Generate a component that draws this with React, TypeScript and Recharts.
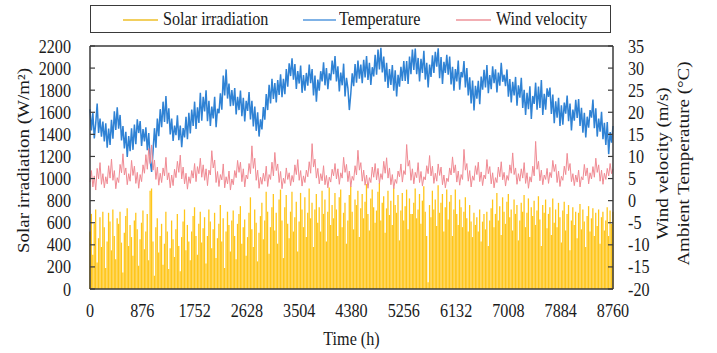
import React from 'react';
import {
  ComposedChart,
  Bar,
  Line,
  XAxis,
  YAxis,
  ReferenceLine,
} from 'recharts';

// one reading per day (daily peak for irradiation)
const STEP_H = 24;

const solarPeak = [
  520, 680, 310, 590, 720, 240, 460, 650, 380, 700,
  560, 190, 430, 690, 610, 350, 720, 480, 270, 640,
  590, 700, 420, 150, 510, 660, 730, 390, 580, 470,
  300, 620, 690, 540, 210, 450, 600, 710, 360, 520,
  680, 260, 890, 910, 430, 120, 560, 640, 330, 480,
  590, 220, 410, 700, 520, 180, 370, 620, 450, 290,
  540, 680, 390, 160, 470, 610, 720, 350, 580, 430,
  260, 520, 660, 740, 480, 310, 590, 700, 420, 550,
  650, 230, 480, 720, 610, 370, 540, 690, 280, 460,
  590, 760, 430, 640, 190, 520, 700, 580, 340, 620,
  710, 480, 270, 590, 680, 750, 410, 560, 630, 300,
  470, 690, 830, 540, 380, 720, 600, 250, 510, 660,
  780, 450, 620, 880, 700, 320, 560, 740, 860, 530,
  690, 410, 810, 900, 620, 280, 740, 850, 590, 460,
  700, 880, 520, 650, 790, 340, 610, 870, 720, 560,
  830, 470, 690, 910, 640, 780, 380, 720, 860, 600,
  740, 520, 890, 680, 810, 430, 700, 920, 580, 760,
  640, 870, 720, 480, 830, 900, 560, 690, 780, 410,
  620, 850, 930, 700, 540, 810, 760, 890, 470, 730,
  860, 640, 790, 950, 680, 530, 820, 900, 740, 600,
  710, 880, 960, 620, 780, 840, 510, 730, 890, 670,
  800, 580, 920, 760, 690, 850, 440, 710, 870, 620,
  750, 900, 540, 820, 680, 680, 780, 910, 640, 720,
  860, 590, 800, 930, 700, 480, 60, 760, 650, 890,
  720, 810, 570, 940, 690, 780, 860, 520, 740, 900,
  630, 790, 850, 480, 720, 900, 680, 580, 810, 740,
  560, 700, 830, 640, 520, 760, 610, 470, 690, 580,
  650, 520, 720, 430, 610, 680, 540, 700, 390, 620,
  730, 810, 560, 680, 870, 620, 750, 490, 830, 700,
  590, 790, 860, 650, 720, 530, 810, 680, 760, 440,
  620, 780, 700, 850, 560, 690, 820, 470, 740, 660,
  800, 580, 710, 840, 630, 390, 760, 690, 810, 550,
  680, 740, 490, 820, 600, 720, 560, 780, 650, 420,
  710, 790, 530, 680, 760, 350, 620, 740, 580, 700,
  460, 690, 770, 540, 720, 610, 380, 660, 750, 520,
  640, 730, 480, 690, 570, 720, 410, 650, 700, 530,
  620, 740, 480, 710, 590, 700,
];

const temperature = [
  20.7, 15.9, 19.8, 14.1, 17.5, 22.0, 15.3, 18.6, 14.5, 17.9,
  13.4, 17.5, 12.0, 16.3, 12.6, 18.3, 14.0, 20.2, 16.0, 21.1,
  16.3, 19.4, 13.6, 16.9, 11.8, 15.6, 9.9, 14.6, 11.2, 16.4,
  11.5, 17.2, 12.8, 18.4, 15.3, 18.0, 12.4, 16.2, 13.4, 16.6,
  11.4, 15.3, 9.0, 6.5, 11.2, 16.4, 12.0, 18.6, 14.6, 20.7,
  16.6, 22.4, 17.8, 23.7, 17.4, 20.9, 15.0, 18.6, 13.5, 17.0,
  14.8, 19.3, 13.7, 17.0, 12.1, 16.4, 14.3, 19.0, 13.9, 19.9,
  15.2, 20.6, 16.9, 22.4, 16.2, 21.1, 17.6, 24.4, 18.1, 23.5,
  20.2, 25.0, 18.0, 22.6, 16.9, 21.3, 18.6, 23.5, 16.6, 20.8,
  19.8, 24.3, 20.6, 28.3, 23.8, 29.7, 23.1, 26.5, 21.4, 25.0,
  21.5, 25.5, 19.5, 23.5, 20.5, 24.9, 19.1, 23.3, 17.9, 22.6,
  20.3, 24.6, 18.4, 22.6, 16.8, 21.3, 15.8, 20.0, 14.5, 18.4,
  16.1, 21.2, 18.3, 24.1, 20.5, 26.2, 22.0, 27.6, 23.0, 26.6,
  22.2, 27.3, 23.9, 28.6, 23.4, 27.6, 24.1, 29.8, 25.8, 31.1,
  28.2, 32.2, 27.4, 30.9, 25.3, 29.3, 26.5, 30.6, 24.4, 28.4,
  24.9, 28.9, 26.0, 30.8, 26.6, 29.8, 23.8, 28.3, 22.4, 27.4,
  24.9, 29.3, 27.0, 31.3, 26.1, 30.0, 25.2, 28.8, 27.2, 31.7,
  28.6, 32.7, 27.0, 30.4, 24.7, 29.0, 26.1, 31.0, 23.6, 27.8,
  25.4, 20.5, 24.2, 28.8, 25.9, 30.9, 26.7, 31.7, 27.6, 30.8,
  26.6, 31.9, 27.9, 32.7, 27.3, 31.2, 26.2, 30.2, 28.1, 33.0,
  28.5, 34.2, 29.7, 34.6, 29.0, 32.6, 26.9, 31.2, 25.5, 29.8,
  26.2, 30.7, 24.9, 29.5, 23.6, 28.5, 25.8, 30.3, 27.1, 31.6,
  27.1, 31.6, 26.4, 32.6, 28.6, 34.2, 29.6, 34.4, 28.6, 32.3,
  27.0, 32.1, 28.9, 33.9, 27.4, 31.2, 25.6, 30.8, 28.0, 32.9,
  28.9, 33.7, 30.3, 34.5, 27.7, 32.5, 26.4, 31.4, 28.9, 33.0,
  28.5, 32.6, 26.3, 30.3, 24.9, 29.8, 27.0, 31.7, 25.1, 29.1,
  27.9, 31.6, 25.6, 30.0, 23.8, 27.9, 22.0, 27.2, 20.4, 26.0,
  23.1, 27.1, 21.8, 28.1, 25.1, 29.6, 25.6, 30.7, 24.3, 28.4,
  25.2, 30.4, 26.6, 29.7, 24.5, 29.0, 26.0, 31.2, 26.9, 28.5,
  25.9, 29.7, 23.5, 27.5, 22.2, 26.9, 23.8, 28.0, 21.5, 26.1,
  23.3, 27.8, 21.0, 25.1, 19.4, 24.4, 20.7, 25.9, 18.5, 23.7,
  21.9, 26.7, 20.6, 25.8, 21.0, 27.3, 19.4, 24.2, 20.6, 25.4,
  23.5, 25.6, 19.6, 24.0, 17.5, 22.5, 18.8, 23.3, 16.9, 21.6,
  17.2, 22.2, 19.7, 23.8, 18.0, 22.0, 15.9, 20.6, 18.1, 22.8,
  18.7, 23.0, 16.9, 21.0, 15.4, 19.9, 14.3, 19.0, 16.5, 20.5,
  18.8, 22.9, 16.4, 20.9, 14.5, 18.6, 15.6, 20.1, 13.9, 17.6,
  12.6, 17.8, 10.5, 15.5, 13.1, 16.9,
];

const windVelocity = [
  4.2, 6.8, 3.1, 5.6, 2.4, 7.3, 4.9, 8.6, 3.7, 6.1,
  2.9, 5.4, 3.8, 7.9, 5.1, 9.4, 4.6, 6.8, 2.7, 5.2,
  4.1, 8.2, 6.3, 10.6, 5.8, 7.4, 3.6, 6.1, 4.4, 9.1,
  5.7, 7.8, 3.9, 6.4, 2.8, 5.9, 4.3, 8.1, 6.2, 10.4,
  7.1, 11.8, 8.4, 12.6, 6.9, 9.2, 4.8, 7.6, 3.5, 6.2,
  4.1, 7.4, 5.6, 9.8, 4.7, 6.3, 2.9, 5.8, 3.4, 7.1,
  5.2, 8.9, 6.4, 10.3, 4.9, 7.6, 3.8, 6.2, 2.6, 5.4,
  3.9, 6.8, 5.1, 8.4, 4.3, 7.7, 6.1, 9.6, 5.3, 8.1,
  4.6, 7.2, 3.4, 6.9, 5.8, 11.3, 7.4, 9.2, 4.1, 6.6,
  3.2, 5.9, 4.7, 8.3, 2.9, 5.4, 3.8, 6.7, 2.4, 4.9,
  3.6, 6.8, 5.2, 9.1, 6.4, 8.7, 4.3, 7.2, 3.1, 5.8,
  4.9, 8.4, 6.1, 12.4, 7.3, 9.6, 4.6, 6.9, 2.8, 5.3,
  3.7, 6.2, 4.4, 7.8, 3.2, 5.9, 4.8, 8.7, 5.6, 10.9,
  6.8, 8.3, 4.1, 6.6, 2.7, 5.1, 3.9, 7.4, 4.8, 6.3,
  3.4, 5.7, 4.2, 8.1, 5.9, 9.3, 4.6, 6.8, 3.3, 5.6,
  4.1, 6.9, 5.4, 8.8, 6.2, 12.9, 7.6, 9.4, 5.1, 7.3,
  3.8, 6.1, 4.5, 7.9, 3.6, 5.7, 2.9, 5.3, 4.2, 7.1,
  5.6, 8.4, 4.9, 7.2, 3.7, 6.3, 5.1, 9.8, 6.4, 8.2,
  4.3, 6.7, 3.1, 5.5, 4.6, 7.9, 5.8, 11.4, 6.9, 8.6,
  4.4, 6.9, 3.5, 5.8, 2.8, 5.2, 4.1, 7.6, 5.3, 8.4,
  4.7, 7.3, 3.9, 6.1, 4.8, 8.9, 6.2, 9.7, 5.1, 7.4,
  3.6, 5.9, 2.7, 4.8, 3.9, 6.7, 5.4, 8.3, 4.2, 6.8,
  5.9, 12.7, 7.8, 9.1, 4.6, 7.2, 3.8, 6.4, 5.2, 8.6,
  4.1, 6.6, 3.3, 5.4, 4.7, 7.9, 6.1, 10.2, 5.6, 7.8,
  3.9, 6.2, 4.4, 8.3, 5.7, 7.6, 3.6, 5.8, 2.9, 5.1,
  4.3, 7.4, 5.8, 9.9, 6.3, 8.1, 4.2, 6.7, 3.5, 5.9,
  4.8, 11.6, 6.9, 8.4, 4.4, 6.8, 3.1, 5.6, 4.6, 7.9,
  5.9, 8.7, 4.3, 6.5, 3.4, 5.8, 4.9, 9.3, 6.1, 7.7,
  3.8, 6.3, 2.9, 5.2, 4.1, 7.6, 5.4, 8.8, 4.7, 6.4,
  3.3, 5.7, 4.6, 8.1, 6.2, 10.8, 5.9, 7.4, 3.7, 6.1,
  4.4, 7.2, 5.1, 8.6, 3.9, 6.3, 2.8, 5.4, 4.2, 7.8,
  5.6, 13.4, 7.1, 8.9, 4.5, 6.9, 3.6, 5.8, 4.8, 7.3,
  3.9, 6.4, 5.2, 9.1, 6.6, 8.2, 4.1, 6.7, 3.2, 5.5,
  4.6, 7.8, 5.9, 10.7, 6.8, 8.4, 4.3, 6.1, 3.4, 5.8,
  4.2, 6.9, 3.1, 5.4, 4.7, 8.2, 5.6, 7.4, 3.8, 6.3,
  4.9, 7.7, 5.3, 9.6, 6.4, 8.1, 4.4, 6.9, 3.7, 6.2,
  4.8, 7.3, 5.6, 8.4, 6.1, 7.2,
];

const timeTicks = [0, 876, 1752, 2628, 3504, 4380, 5256, 6132, 7008, 7884, 8760];
const irradiationTicks = [0, 200, 400, 600, 800, 1000, 1200, 1400, 1600, 1800, 2000, 2200];
const temperatureTicks = [-20, -15, -10, -5, 0, 5, 10, 15, 20, 25, 30, 35];

const series = [
  { key: 'solar', name: 'Solar irradiation', color: '#FFC61A', swatch: '#F2CF5E' },
  { key: 'temp', name: 'Temperature', color: '#2F82D4', swatch: '#7FB2E6' },
  { key: 'wind', name: 'Wind velocity', color: '#F08A93', swatch: '#F2AEB3' },
];

const data = solarPeak.map((s, i) => ({
  hour: i * STEP_H,
  solar: s,
  temp: temperature[i],
  wind: windVelocity[i],
}));

const FONT = '"Liberation Serif", "Times New Roman", serif';
const FS = 19;
const SQUEEZE = 0.85; // the source figure is squashed sideways
const FRAME = '#3a3a3a';
const INK = '#1a1a1a';

// horizontally squeezed text, optionally rotated
const Txt = ({ x, y, anchor = 'middle', rotate = 0, children }: any) => (
  <text
    transform={`translate(${x} ${y}) scale(${SQUEEZE} 1) rotate(${rotate})`}
    textAnchor={anchor}
    fill={INK}
    fontFamily={FONT}
    fontSize={FS}
  >
    {children}
  </text>
);

const LeftTick = ({ x, y, payload }: any) => (
  <g>
    <line x1={x} x2={x + 5} y1={y} y2={y} stroke={FRAME} strokeWidth={1.2} />
    <Txt x={x - 19} y={y + 6.5} anchor="end">{payload.value}</Txt>
  </g>
);

const RightTick = ({ x, y, payload }: any) => (
  <g>
    <line x1={x} x2={x - 5} y1={y} y2={y} stroke={FRAME} strokeWidth={1.2} />
    <Txt x={x + 15} y={y + 6.5} anchor="start">{payload.value}</Txt>
  </g>
);

const BottomTick = ({ x, y, payload }: any) => (
  <Txt x={x} y={y + 28}>{payload.value}</Txt>
);

const LeftTitle = ({ viewBox }: any) => (
  <Txt x={viewBox.x + 29} y={viewBox.y + viewBox.height / 2 - 7} rotate={-90}>
    Solar irradiation (W/m²)
  </Txt>
);

const RightTitle = ({ viewBox }: any) => {
  const cy = viewBox.y + viewBox.height / 2 - 4;
  return (
    <g>
      <Txt x={viewBox.x + 55} y={cy} rotate={-90}>Wind velocity (m/s)</Txt>
      <Txt x={viewBox.x + 76} y={cy} rotate={-90}>Ambient Temperature (°C)</Txt>
    </g>
  );
};

const BottomTitle = ({ viewBox }: any) => (
  <Txt x={viewBox.x + viewBox.width / 2} y={viewBox.y + 56}>Time (h)</Txt>
);

// legend item offsets inside the box
const legendSlots = [
  { swatch: 32, swatchW: 35, text: 72 },
  { swatch: 212, swatchW: 33, text: 248 },
  { swatch: 365, swatchW: 35, text: 405 },
];

const LegendBox = () => (
  <div
    style={{
      position: 'absolute',
      left: 90,
      top: 5,
      width: 519,
      height: 26,
      border: `1.5px solid ${FRAME}`,
      fontFamily: FONT,
      fontSize: FS,
      color: INK,
    }}
  >
    {series.map((s, i) => (
      <React.Fragment key={s.key}>
        <span
          style={{
            position: 'absolute',
            left: legendSlots[i].swatch,
            top: 13,
            width: legendSlots[i].swatchW,
            height: 1.5,
            background: s.swatch,
          }}
        />
        <span
          style={{
            position: 'absolute',
            left: legendSlots[i].text,
            top: 1,
            lineHeight: '24px',
            whiteSpace: 'nowrap',
            transform: `scaleX(${SQUEEZE})`,
            transformOrigin: 'left center',
          }}
        >
          {s.name}
        </span>
      </React.Fragment>
    ))}
  </div>
);

export default function App() {
  return (
    <div style={{ position: 'absolute', left: 0, top: 0, width: 717, height: 353, background: '#fff' }}>
      <LegendBox />
      <ComposedChart
        width={717}
        height={353}
        data={data}
        margin={{ top: 46, right: 0, bottom: 0, left: 0 }}
      >
        <XAxis
          dataKey="hour"
          type="number"
          domain={[0, 8760]}
          ticks={timeTicks}
          interval={0}
          height={64}
          tickSize={0}
          tickMargin={0}
          tickLine={false}
          axisLine={{ stroke: FRAME, strokeWidth: 1.5 }}
          tick={<BottomTick />}
          label={<BottomTitle />}
        />
        <YAxis
          yAxisId="left"
          domain={[0, 2200]}
          ticks={irradiationTicks}
          interval={0}
          width={90}
          tickSize={0}
          tickMargin={0}
          axisLine={{ stroke: FRAME, strokeWidth: 1.5 }}
          tickLine={false}
          tick={<LeftTick />}
          label={<LeftTitle />}
        />
        <YAxis
          yAxisId="right"
          orientation="right"
          domain={[-20, 35]}
          ticks={temperatureTicks}
          interval={0}
          width={104}
          tickSize={0}
          tickMargin={0}
          axisLine={{ stroke: FRAME, strokeWidth: 1.5 }}
          tickLine={false}
          tick={<RightTick />}
          label={<RightTitle />}
        />
        <ReferenceLine yAxisId="left" y={2200} stroke={FRAME} strokeWidth={1.5} />
        <Bar
          yAxisId="left"
          dataKey="solar"
          fill={series[0].color}
          barSize={1.6}
          isAnimationActive={false}
        />
        <Line
          yAxisId="right"
          dataKey="temp"
          type="linear"
          stroke={series[1].color}
          strokeWidth={1.5}
          dot={false}
          isAnimationActive={false}
        />
        <Line
          yAxisId="right"
          dataKey="wind"
          type="linear"
          stroke={series[2].color}
          strokeWidth={1}
          dot={false}
          isAnimationActive={false}
        />
      </ComposedChart>
    </div>
  );
}
